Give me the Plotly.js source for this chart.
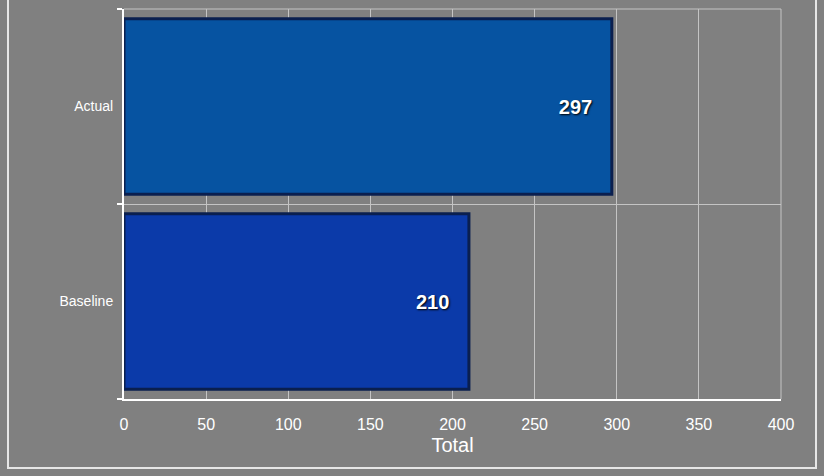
<!DOCTYPE html>
<html>
<head>
<meta charset="utf-8">
<script src="https://cdn.plot.ly/plotly-3.0.1.min.js"></script>
<style>
  html, body { margin: 0; padding: 0; background: #808080; }
  #wrap { position: relative; width: 824px; height: 476px; }
  #chart { width: 824px; height: 476px; }
  #frame { position: absolute; left: 7px; top: -4px; width: 810px; height: 473px;
           border: 2px solid #e6e6e6; pointer-events: none; box-sizing: border-box; }
</style>
</head>
<body>
<div id="wrap">
  <div id="chart"></div>
  <div id="frame"></div>
</div>
<script>
const categories = ['Baseline', 'Actual'];
const totals = [210, 297];
const barColors = ['#0b3aa9', '#0653a1'];
const xTickValues = [0, 50, 100, 150, 200, 250, 300, 350, 400];

const trace = {
  type: 'bar',
  orientation: 'h',
  y: categories,
  x: totals,
  width: 0.9,
  marker: { color: barColors, line: { color: '#0a1f4f', width: 3 } },
  text: totals.map(v => String(v)),
  textposition: 'inside',
  insidetextanchor: 'end',
  texttemplate: '<b>%{text}</b>   ',
  textfont: { family: 'Liberation Sans, Arial, sans-serif', size: 20, color: '#ffffff', shadow: '1px 1px 2px #000000' },
  hoverinfo: 'none',
  cliponaxis: false
};

const layout = {
  width: 824, height: 476,
  margin: { l: 124, r: 43, t: 9, b: 77 },
  paper_bgcolor: '#808080',
  plot_bgcolor: '#808080',
  showlegend: false,
  font: { family: 'Liberation Sans, Arial, sans-serif', color: '#ffffff' },
  xaxis: {
    range: [0, 400],
    tickvals: xTickValues,
    ticktext: xTickValues.map(String),
    showgrid: true, gridcolor: '#c4c4c4', gridwidth: 1,
    zeroline: false,
    showline: true, linecolor: '#ffffff', linewidth: 2,
    ticks: '', tickfont: { size: 16, color: '#ffffff' },
    ticklabelstandoff: 10,
    title: { text: 'Total', font: { size: 20, color: '#ffffff' }, standoff: 6 },
    fixedrange: true
  },
  yaxis: {
    type: 'category',
    categoryorder: 'array', categoryarray: categories,
    tickson: 'boundaries',
    ticks: 'outside', ticklen: 5, tickcolor: '#ffffff', tickwidth: 2,
    showgrid: true, gridcolor: '#c4c4c4', gridwidth: 1,
    showline: true, linecolor: '#ffffff', linewidth: 2,
    tickfont: { size: 14, color: '#ffffff' },
    ticklabelstandoff: 6,
    fixedrange: true
  },
  shapes: [
    { type: 'line', xref: 'paper', yref: 'paper', x0: 0, x1: 1, y0: 1, y1: 1,
      line: { color: '#c4c4c4', width: 1 }, layer: 'below' },
    { type: 'line', xref: 'paper', yref: 'paper', x0: 1, x1: 1, y0: 0, y1: 1,
      line: { color: '#c4c4c4', width: 1 }, layer: 'below' }
  ]
};

Plotly.newPlot('chart', [trace], layout, { displayModeBar: false, staticPlot: true });
</script>
</body>
</html>
